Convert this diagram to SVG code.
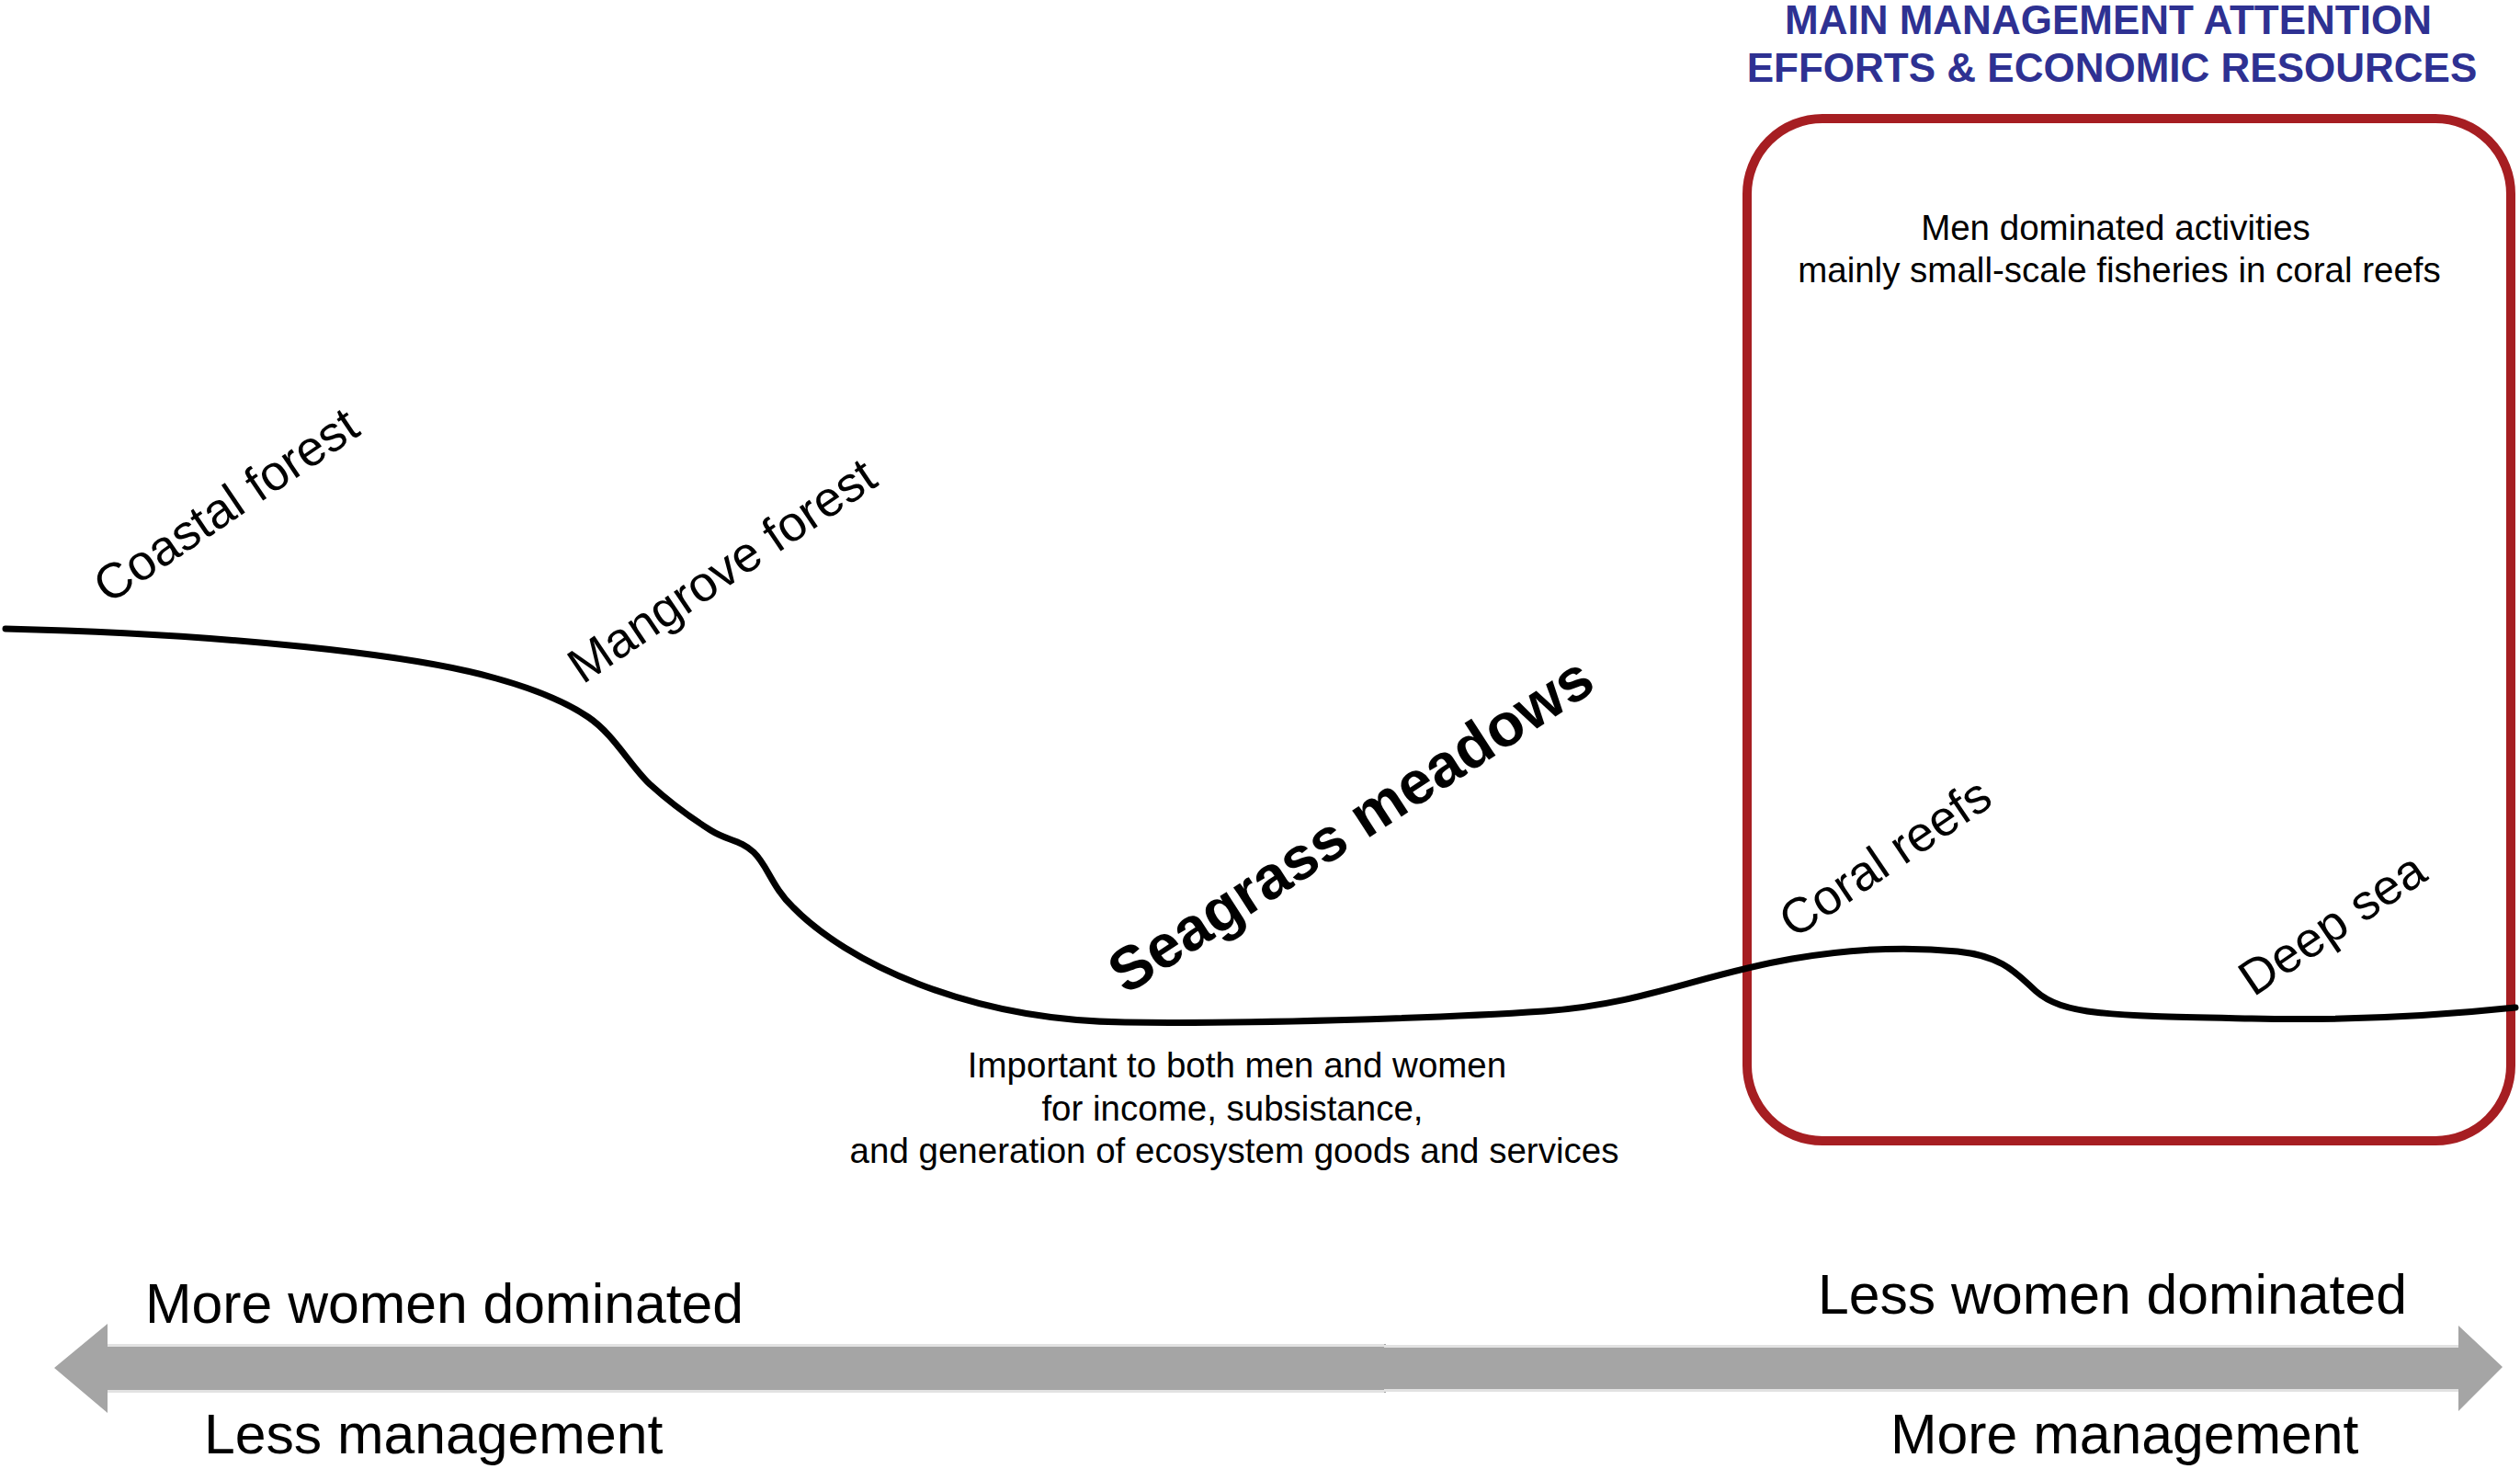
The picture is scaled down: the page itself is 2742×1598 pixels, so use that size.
<svg xmlns="http://www.w3.org/2000/svg" width="2742" height="1598" viewBox="0 0 2742 1598">
<style>
text{font-family:"Liberation Sans",Arial,sans-serif;fill:#000}
.title{font-size:44px;font-weight:bold;fill:#2e3192;text-anchor:middle}
.small{font-size:38.5px;text-anchor:middle}
.zone{font-size:54px}
.big{font-size:60.7px}
.arrow{fill:#a5a5a5}
.band{fill:#e2e2e2}
</style>
<rect width="2742" height="1598" fill="#fff"/>
<g id="title">
<text class="title" x="2294" y="37">MAIN MANAGEMENT ATTENTION</text>
<text class="title" x="2298" y="89">EFFORTS &amp; ECONOMIC RESOURCES</text>
</g>
<g id="management-box">
<rect x="1901" y="129" width="831" height="1112" rx="82" ry="82" fill="none" stroke="#a61e22" stroke-width="10"/>
<text class="small" x="2302" y="261">Men dominated activities</text>
<text class="small" x="2306" y="307">mainly small-scale fisheries in coral reefs</text>
</g>
<g id="connectors">
<path id="profile" fill="none" stroke="#000" stroke-width="7" stroke-linecap="round" d="M6,684 C250,690 450,712 540,738 C576,748 612,761 640,780 C668,799 685,832 707,853 C729,873 754,891 773,903 C792,915 805,913 820,927 C835,941 840,965 863,987 C920,1045 1050,1110 1224,1112 C1350,1114 1560,1108 1680,1100 C1790,1092 1850,1060 1950,1043 C2020,1031 2080,1030 2130,1035 C2180,1040 2195,1060 2215,1078 C2245,1105 2300,1105 2450,1108 C2580,1111 2680,1102 2737,1096"/>
</g>
<g id="coastal-forest"><text class="zone" transform="translate(118,658) rotate(-34)">Coastal forest</text></g>
<g id="mangrove-forest"><text class="zone" transform="translate(634,745) rotate(-34)">Mangrove forest</text></g>
<g id="seagrass-meadows"><text class="zone" style="font-size:66px;font-weight:bold" transform="translate(1225,1083) rotate(-33)">Seagrass meadows</text></g>
<g id="seagrass-note">
<text class="small" x="1346" y="1172">Important to both men and women</text>
<text class="small" x="1341" y="1219">for income, subsistance,</text>
<text class="small" x="1343" y="1265">and generation of ecosystem goods and services</text>
</g>
<g id="coral-reefs"><text class="zone" transform="translate(1952,1022) rotate(-34)">Coral reefs</text></g>
<g id="deep-sea"><text class="zone" transform="translate(2452,1085) rotate(-34)">Deep sea</text></g>
<g id="gradient-arrow">
<polygon class="arrow" points="59,1488 117,1440 117,1462 1508,1462 1508,1515 117,1515 117,1537"/>
<polygon class="arrow" points="1506,1463 2675,1463 2675,1442 2723,1487 2675,1535 2675,1514 1506,1514"/>
<rect class="band" x="117" y="1462" width="1389" height="3"/>
<rect class="band" x="117" y="1512" width="1389" height="3"/>
<rect class="band" x="1506" y="1463" width="1169" height="3"/>
<rect class="band" x="1506" y="1511" width="1169" height="3"/>
<text class="big" x="158" y="1439">More women dominated</text>
<text class="big" x="222" y="1581">Less management</text>
<text class="big" x="1978" y="1429">Less women dominated</text>
<text class="big" x="2057" y="1581">More management</text>
</g>
</svg>
